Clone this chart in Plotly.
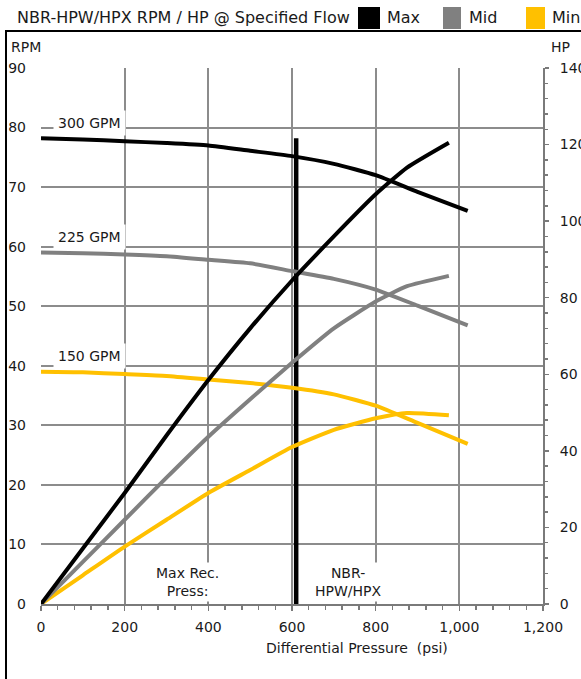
import plotly.graph_objects as go

# ---- data ----
pressure_rpm = [0, 100, 200, 300, 400, 500, 600, 700, 800, 900, 1020]
rpm_300 = [78.2, 78.0, 77.7, 77.4, 77.0, 76.1, 75.2, 73.9, 72.0, 69.2, 66.0]
rpm_225 = [59.0, 58.9, 58.7, 58.4, 57.8, 57.2, 55.9, 54.6, 52.8, 50.1, 46.8]
rpm_150 = [39.0, 38.9, 38.6, 38.3, 37.7, 37.1, 36.3, 35.2, 33.3, 30.4, 26.9]

pressure_hp = [0, 100, 200, 300, 400, 500, 600, 700, 800, 875, 975]
hp_max = [0, 14.5, 29.0, 44.0, 58.5, 72.0, 84.5, 96.0, 107.0, 114.0, 120.5]
hp_mid = [0, 11.0, 22.0, 33.0, 43.7, 53.5, 63.0, 72.0, 79.0, 83.0, 85.7]
hp_min = [0, 7.5, 15.0, 22.0, 29.0, 35.0, 41.0, 45.5, 48.5, 49.9, 49.3]

limit_x = [610, 610]
limit_y = [0, 78.2]

flow_labels = ["300 GPM", "225 GPM", "150 GPM"]
flow_label_x = [117, 117, 117]
flow_label_y = [80.8, 61.7, 41.6]

x_ticks = [0, 200, 400, 600, 800, 1000, 1200]

BLACK = "#000000"
GRAY = "#808080"
YELLOW = "#FFC000"
GRID = "#8c8c8c"
TXT = "#1a1a1a"
FONT = "DejaVu Sans"
FS = 14

fig = go.Figure()

fig.add_trace(go.Scatter(x=limit_x, y=limit_y, mode="lines",
                         line=dict(color=BLACK, width=4.5), showlegend=False, hoverinfo="skip"))

for ys, c in [(rpm_150, YELLOW), (rpm_225, GRAY), (rpm_300, BLACK)]:
    fig.add_trace(go.Scatter(x=pressure_rpm, y=ys, mode="lines",
                             line=dict(color=c, width=4, shape="spline", smoothing=0.5),
                             showlegend=False))
for ys, c in [(hp_min, YELLOW), (hp_mid, GRAY), (hp_max, BLACK)]:
    fig.add_trace(go.Scatter(x=pressure_hp, y=ys, mode="lines", yaxis="y2",
                             line=dict(color=c, width=4, shape="spline", smoothing=0.5),
                             showlegend=False))

W, H = 581, 679
L, R, T, B = 41, 38, 68, 75
pw, ph = W - L - R, H - T - B

def px(xp):
    return (xp - L) / pw

def py(yp):
    return (H - B - yp) / ph

annotations = []
for t, x, y in zip(flow_labels, flow_label_x, flow_label_y):
    annotations.append(dict(x=x, y=y, xref="x", yref="y", text=t, showarrow=False,
                            bgcolor="white", borderpad=4, font=dict(size=FS, color=TXT, family=FONT)))
annotations.append(dict(x=350, y=3.7, xref="x", yref="y", text="Max Rec.<br>Press:", showarrow=False,
                        bgcolor="white", borderpad=2, font=dict(size=FS, color=TXT, family=FONT)))
annotations.append(dict(x=735, y=3.7, xref="x", yref="y", text="NBR-<br>HPW/HPX", showarrow=False,
                        bgcolor="white", borderpad=2, font=dict(size=FS, color=TXT, family=FONT)))
# axis titles
annotations.append(dict(x=px(9), y=py(47), xref="paper", yref="paper", text="RPM", showarrow=False,
                        xanchor="left", yanchor="middle", font=dict(size=FS, color=TXT, family=FONT)))
annotations.append(dict(x=px(549), y=py(47), xref="paper", yref="paper", text="HP", showarrow=False,
                        xanchor="left", yanchor="middle", font=dict(size=FS, color=TXT, family=FONT)))
annotations.append(dict(x=px(357), y=py(648), xref="paper", yref="paper", text="Differential Pressure  (psi)",
                        showarrow=False, xanchor="center", yanchor="middle",
                        font=dict(size=FS, color=TXT, family=FONT)))
# title + legend
annotations.append(dict(x=px(15), y=py(18), xref="paper", yref="paper",
                        text="NBR-HPW/HPX RPM / HP @ Specified Flow", showarrow=False,
                        xanchor="left", yanchor="middle", font=dict(size=16, color=TXT, family=FONT)))
legend_items = [("Max", BLACK, 358, 380, 385), ("Mid", GRAY, 443, 461, 467), ("Min", YELLOW, 526, 545, 550)]
shapes = []
for name, c, x0, x1, xt in legend_items:
    shapes.append(dict(type="rect", xref="paper", yref="paper", x0=px(x0), x1=px(x1),
                       y0=py(29), y1=py(7), fillcolor=c, line=dict(width=0)))
    annotations.append(dict(x=px(xt), y=py(18), xref="paper", yref="paper", text=name, showarrow=False,
                            xanchor="left", yanchor="middle", font=dict(size=16, color=TXT, family=FONT)))
# outer frame
shapes.append(dict(type="line", xref="paper", yref="paper", x0=px(6), x1=px(6), y0=py(31), y1=py(700),
                   line=dict(color=BLACK, width=2)))
shapes.append(dict(type="line", xref="paper", yref="paper", x0=px(5), x1=px(600), y0=py(31), y1=py(31),
                   line=dict(color=BLACK, width=2)))

fig.update_layout(
    width=W, height=H,
    margin=dict(l=L, r=R, t=T, b=B, autoexpand=False),
    paper_bgcolor="white", plot_bgcolor="white",
    font=dict(family=FONT, size=FS, color=TXT),
    showlegend=False,
    hovermode=False,
    annotations=annotations,
    shapes=shapes,
    xaxis=dict(range=[0, 1200], tickvals=x_ticks, tickformat=",", showgrid=True, gridcolor=GRID,
               gridwidth=2, zeroline=False, showline=True, linecolor="#7a7a7a", linewidth=2,
               ticks="outside", ticklen=5, tickcolor="#7a7a7a", tickwidth=1.5, automargin=False,
               minor=dict(dtick=40, ticks="outside", ticklen=4, tickcolor="#7a7a7a", showgrid=False),
               ticklabelstandoff=4, tickfont=dict(size=FS, color=TXT, family=FONT)),
    yaxis=dict(range=[0, 90], dtick=10, showgrid=True, gridcolor=GRID, gridwidth=2, zeroline=False,
               showline=False, ticks="", ticklabelstandoff=14, automargin=False,
               tickfont=dict(size=FS, color=TXT, family=FONT)),
    yaxis2=dict(range=[0, 140], dtick=20, overlaying="y", side="right", showgrid=False, zeroline=False,
                showline=True, linecolor="#7a7a7a", linewidth=2, ticks="outside", ticklen=4,
                tickcolor="#7a7a7a", tickwidth=1.5, automargin=False,
                minor=dict(dtick=4, ticks="outside", ticklen=3, tickcolor="#7a7a7a"),
                ticklabelstandoff=8, tickfont=dict(size=FS, color=TXT, family=FONT)),
)

fig.write_html("out.html", config={"displayModeBar": False, "staticPlot": True},
               post_script="document.body.style.margin='0';document.body.style.overflow='hidden';")
